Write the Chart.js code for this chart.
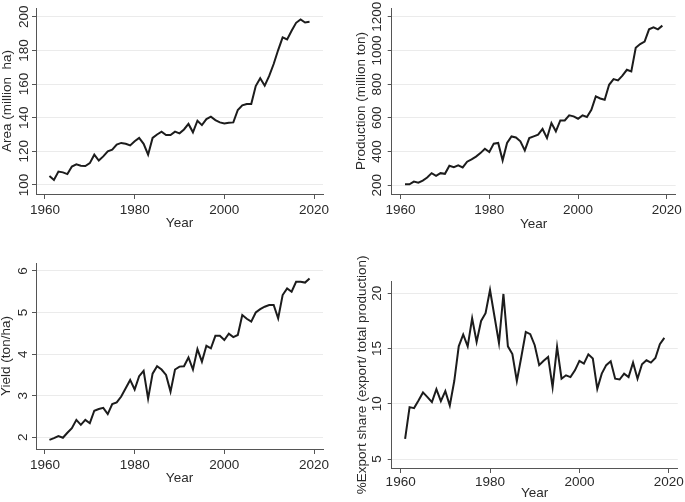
<!DOCTYPE html>
<html>
<head>
<meta charset="utf-8">
<script src="https://cdn.jsdelivr.net/npm/chart.js@4.4.0/dist/chart.umd.min.js"></script>
<style>
  body { margin: 0; background: #fff; }
  #wrap { position: relative; width: 685px; height: 502px; overflow: hidden; background: #fff; }
  canvas { position: absolute; }
</style>
</head>
<body>
<div id="wrap">
  <canvas id="c1" width="340" height="250" style="left:0px;top:0px"></canvas>
  <canvas id="c2" width="345" height="250" style="left:340px;top:0px"></canvas>
  <canvas id="c3" width="340" height="252" style="left:0px;top:250px"></canvas>
  <canvas id="c4" width="345" height="252" style="left:340px;top:250px"></canvas>
</div>
<script>
const years = [1961, 1962, 1963, 1964, 1965, 1966, 1967, 1968, 1969, 1970,
  1971, 1972, 1973, 1974, 1975, 1976, 1977, 1978, 1979, 1980,
  1981, 1982, 1983, 1984, 1985, 1986, 1987, 1988, 1989, 1990,
  1991, 1992, 1993, 1994, 1995, 1996, 1997, 1998, 1999, 2000,
  2001, 2002, 2003, 2004, 2005, 2006, 2007, 2008, 2009, 2010,
  2011, 2012, 2013, 2014, 2015, 2016, 2017, 2018, 2019];

// million ha
const area = [105.3, 103, 108, 107.5, 106.5, 111, 112.3, 111.5, 111.3, 113,
  118, 114.5, 117, 120, 121, 124, 125, 124.5, 123.5, 126,
  128, 124.5, 118, 128, 130, 131.7, 129.7, 129.7, 131.7, 130.7,
  133, 136.3, 131.3, 138.2, 135.6, 139.2, 140.6, 138.6, 137.2, 136.6,
  137, 137.2, 144.6, 147.3, 148.1, 148.1, 158.8, 163.4, 159, 164.8,
  171.9, 180.2, 187.7, 186.5, 191.7, 196.4, 198.4, 196.6, 197];

// million ton
const production = [206, 206, 222, 216, 228, 246, 272, 256, 272, 268,
  316, 308, 318, 306, 340, 354, 370, 391, 417, 397,
  447, 451, 348, 451, 490, 484, 461, 407, 480, 490,
  500, 534, 480, 569, 520, 585, 585, 615, 609, 595,
  615, 605, 648, 727, 715, 707, 796, 830, 822, 850,
  885, 875, 1016, 1038, 1052, 1125, 1137, 1125, 1147];

// ton/ha
const yieldT = [1.94, 1.98, 2.03, 1.99, 2.11, 2.22, 2.42, 2.30, 2.42, 2.34,
  2.64, 2.68, 2.71, 2.56, 2.80, 2.84, 2.98, 3.18, 3.38, 3.15,
  3.47, 3.60, 2.93, 3.53, 3.71, 3.63, 3.50, 3.10, 3.63, 3.70,
  3.71, 3.92, 3.63, 4.12, 3.82, 4.20, 4.14, 4.44, 4.44, 4.34,
  4.49, 4.41, 4.46, 4.94, 4.85, 4.78, 5.00, 5.08, 5.14, 5.18,
  5.18, 4.86, 5.42, 5.58, 5.50, 5.74, 5.74, 5.72, 5.82];

// % export share
const exportShare = [6.82, 9.70, 9.61, 10.3, 11.03, 10.6, 10.15, 11.33, 10.24, 11.15,
  9.85, 12.06, 15.2, 16.27, 15.2, 17.73, 15.6, 17.5, 18.2, 20.3,
  17.9, 15.5, 19.94, 15.2, 14.5, 12.06, 14.24, 16.5, 16.3, 15.3,
  13.5, 13.9, 14.24, 11.5, 15.15, 12.27, 12.58, 12.42, 13.03, 13.88,
  13.64, 14.48, 14.1, 11.36, 12.73, 13.5, 13.85, 12.27, 12.2, 12.73,
  12.42, 13.73, 12.27, 13.58, 13.94, 13.73, 14.15, 15.4, 15.97];

const xTicks = [1960, 1980, 2000, 2020];
const areaTicks = [100, 120, 140, 160, 180, 200];
const prodTicks = [200, 400, 600, 800, 1000, 1200];
const yieldTicks = [2, 3, 4, 5, 6];
const exportTicks = [5, 10, 15, 20];

const FONT = '"Liberation Sans", Arial, sans-serif';
const TXT = '#2a2a2a';
const AXIS = '#555';

// rotated y tick labels (Stata style)
const yLabels = {
  id: 'yLabels',
  afterDraw(chart, args, opts) {
    const s = chart.scales.y;
    const ctx = chart.ctx;
    ctx.save();
    ctx.fillStyle = TXT;
    ctx.font = opts.size + 'px ' + FONT;
    ctx.textAlign = 'center';
    ctx.textBaseline = 'middle';
    s.ticks.forEach(t => {
      ctx.save();
      ctx.translate(s.right - opts.offset, s.getPixelForValue(t.value));
      ctx.rotate(-Math.PI / 2);
      ctx.fillText(String(t.value), 0, 0);
      ctx.restore();
    });
    ctx.restore();
  }
};

function panel(id, values, yTicks, yMin, yMax, yTitle, b) {
  const cv = document.getElementById(id);
  const W = cv.width, H = cv.height;
  const lh = 13.5 * 1.2;
  return new Chart(cv, {
    type: 'line',
    data: {
      datasets: [{
        data: years.map((yr, i) => ({ x: yr, y: values[i] })),
        borderColor: '#1c1c1c',
        borderWidth: 2,
        pointRadius: 0,
        tension: 0,
        fill: false
      }]
    },
    options: {
      responsive: false,
      animation: false,
      events: [],
      layout: { padding: { left: 0, top: b.top, right: W - b.right, bottom: 0 } },
      plugins: {
        legend: { display: false },
        tooltip: { enabled: false },
        yLabels: { offset: b.yLabOff, size: 13.5 }
      },
      scales: {
        x: {
          type: 'linear',
          min: 1958,
          max: 2022,
          afterBuildTicks: s => { s.ticks = xTicks.map(v => ({ value: v })); },
          afterFit: s => { s.height = H - b.bottom; },
          grid: { drawOnChartArea: false, tickLength: 5, tickColor: AXIS },
          border: { color: AXIS, width: 1 },
          ticks: {
            color: TXT, font: { family: FONT, size: 13.5 }, padding: b.xTickPad,
            maxRotation: 0, autoSkip: false, callback: v => String(v)
          },
          title: {
            display: true, text: 'Year', color: TXT, font: { family: FONT, size: 13.5 },
            padding: { top: 0, bottom: H - lh / 2 - b.xTitle }
          }
        },
        y: {
          min: yMin,
          max: yMax,
          afterBuildTicks: s => { s.ticks = yTicks.map(v => ({ value: v })); },
          afterFit: s => { s.width = b.left; },
          grid: { color: '#ebebeb', lineWidth: 1, tickLength: 4, tickColor: AXIS },
          border: { color: AXIS, width: 1 },
          ticks: { display: false },
          title: {
            display: true, text: yTitle, color: TXT, font: { family: FONT, size: 13.5 },
            padding: { top: b.yTitle - lh / 2, bottom: 0 }
          }
        }
      }
    },
    plugins: [yLabels]
  });
}

panel('c1', area, areaTicks, 94.65, 205.2, 'Area (million  ha)',
  { left: 36, top: 8, right: 323, bottom: 194, xTickPad: 3, xTitle: 223, yTitle: 7.5, yLabOff: 12 });
panel('c2', production, prodTicks, 148.4, 1251.6, 'Production (million ton)',
  { left: 51.7, top: 8, right: 339, bottom: 194, xTickPad: 3, xTitle: 223.8, yTitle: 21, yLabOff: 14 });
panel('c3', yieldT, yieldTicks, 1.72, 6.19, 'Yield (ton/ha)',
  { left: 36, top: 13, right: 323, bottom: 199, xTickPad: 3, xTitle: 228, yTitle: 6, yLabOff: 13 });
panel('c4', exportShare, exportTicks, 4.19, 21.05, '%Export share (export/ total production)',
  { left: 51.7, top: 31.7, right: 339, bottom: 218, xTickPad: 1, xTitle: 243, yTitle: 22, yLabOff: 14 });
</script>
</body>
</html>
